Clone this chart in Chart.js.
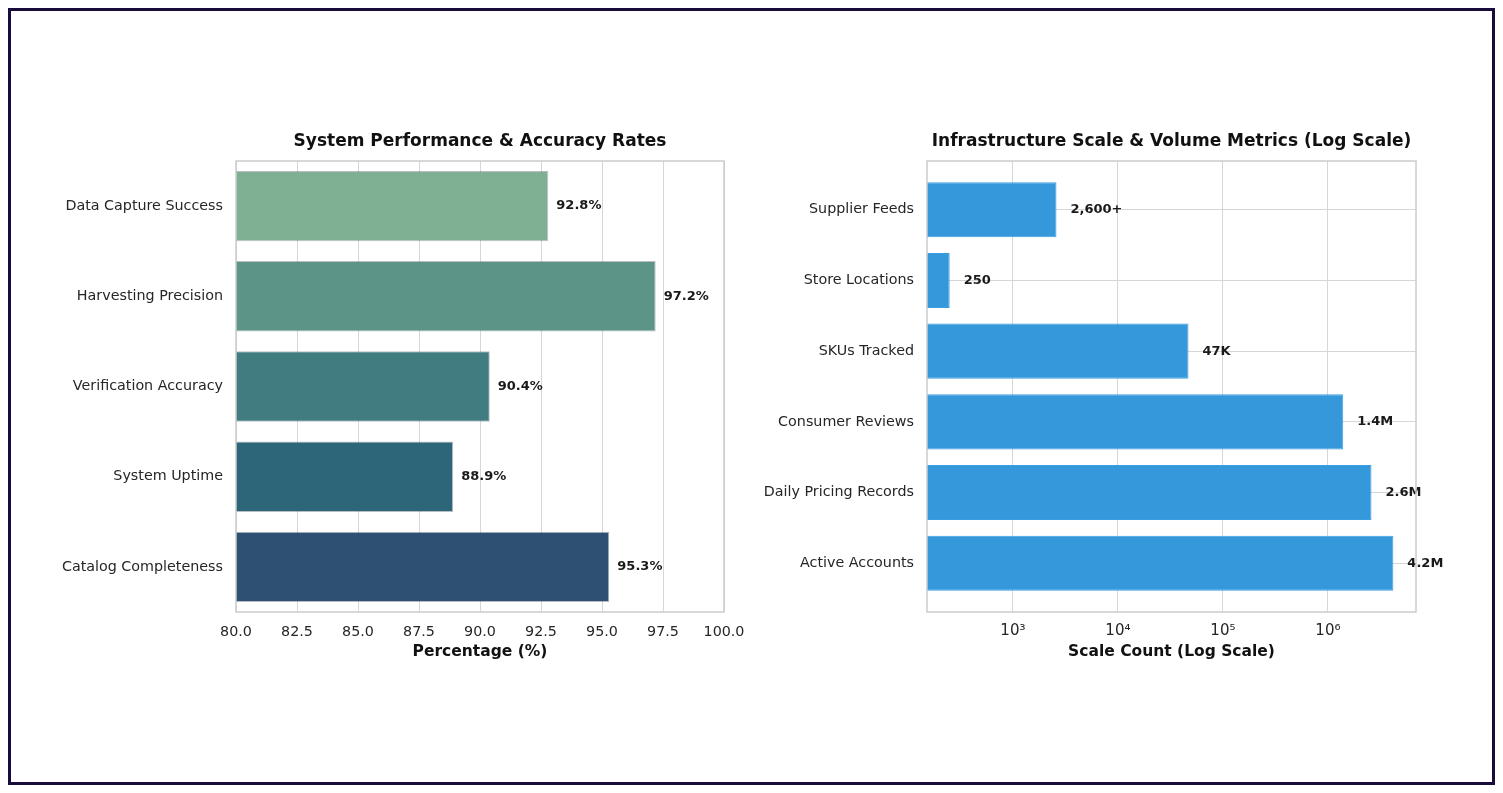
<!DOCTYPE html>
<html>
<head>
<meta charset="utf-8">
<script src="https://cdn.jsdelivr.net/npm/chart.js@4.4.1/dist/chart.umd.min.js"></script>
<style>
  html, body { margin: 0; padding: 0; background: #fff; }
  body { width: 1503px; height: 793px; position: relative; overflow: hidden; }
  .frame { position: absolute; left: 8px; top: 8px; width: 1481px; height: 771px; border: 3px solid #1a0b3d; }
  canvas { position: absolute; top: 0; }
  #perfChart { left: 0; }
  #scaleChart { left: 752px; }
</style>
</head>
<body>
<div class="frame"></div>
<canvas id="perfChart" width="752" height="700"></canvas>
<canvas id="scaleChart" width="751" height="700"></canvas>
<script>
// datos del panel izquierdo
const perfCategories = ["Data Capture Success", "Harvesting Precision", "Verification Accuracy", "System Uptime", "Catalog Completeness"];
const perfValues = [92.8, 97.2, 90.4, 88.9, 95.3];
const perfColors = ["#7fb093", "#5c9488", "#407c80", "#2d6679", "#2e5073"];

// datos del panel derecho
const scaleCategories = ["Supplier Feeds", "Store Locations", "SKUs Tracked", "Consumer Reviews", "Daily Pricing Records", "Active Accounts"];
const scaleValues = [2600, 250, 47000, 1400000, 2600000, 4200000];
const scaleLabels = ["2,600+", "250", "47K", "1.4M", "2.6M", "4.2M"];
const logTickValues = [1e3, 1e4, 1e5, 1e6];
const logTickLabels = ["10\u00B3", "10\u2074", "10\u2075", "10\u2076"];

const FONT = "'DejaVu Sans', sans-serif";
const TEXT = "#262626";
const GRID = "#d6d6d6";

// marco gris alrededor del area de trazado
const boxPlugin = {
  id: "box",
  afterDraw(chart) {
    const a = chart.chartArea;
    const ctx = chart.ctx;
    ctx.save();
    ctx.strokeStyle = "#cccccc";
    ctx.lineWidth = 1.5;
    ctx.strokeRect(a.left, a.top, a.right - a.left, a.bottom - a.top);
    ctx.restore();
  }
};

// titulo centrado sobre el area de trazado
function plotTitle(text) {
  return {
    id: "plotTitle",
    afterDraw(chart) {
      const a = chart.chartArea;
      const ctx = chart.ctx;
      ctx.save();
      ctx.font = "bold 17px " + FONT;
      ctx.fillStyle = "#111";
      ctx.textAlign = "center";
      ctx.textBaseline = "middle";
      ctx.fillText(text, (a.left + a.right) / 2, a.top - 19);
      ctx.restore();
    }
  };
}

// etiquetas de valor al final de cada barra
function valueLabels(texts, gap) {
  return {
    id: "valueLabels",
    afterDatasetsDraw(chart) {
      const ctx = chart.ctx;
      const meta = chart.getDatasetMeta(0);
      ctx.save();
      ctx.font = "bold 13px " + FONT;
      ctx.fillStyle = "#1a1a1a";
      ctx.textBaseline = "middle";
      ctx.textAlign = "left";
      meta.data.forEach((bar, i) => {
        ctx.fillText(texts[i], bar.x + gap, bar.y);
      });
      ctx.restore();
    }
  };
}

function fixWidth(w) { return scale => { scale.width = w; }; }
function fixHeight(h) {
  return scale => {
    scale.height = h;
    scale.paddingLeft = 0;
    scale.paddingRight = 0;
  };
}

new Chart(document.getElementById("perfChart"), {
  type: "bar",
  data: {
    labels: perfCategories,
    datasets: [{
      data: perfValues,
      backgroundColor: perfColors,
      borderColor: perfColors.map(() => "rgba(20,40,60,0.3)"),
      borderWidth: 1,
      borderSkipped: false,
      barPercentage: 0.78,
      categoryPercentage: 1
    }]
  },
  options: {
    indexAxis: "y",
    responsive: false,
    animation: false,
    layout: { padding: { left: 0, right: 28, top: 161, bottom: 28 } },
    plugins: {
      legend: { display: false },
      tooltip: { enabled: false },
      title: { display: false }
    },
    scales: {
      x: {
        type: "linear",
        min: 80,
        max: 100,
        afterFit: fixHeight(60),
        grid: { color: GRID, lineWidth: 1, drawTicks: false },
        border: { display: false },
        ticks: {
          stepSize: 2.5,
          padding: 12,
          color: TEXT,
          font: { family: FONT, size: 14.3 },
          callback: v => v.toFixed(1)
        },
        title: {
          display: true,
          text: "Percentage (%)",
          color: "#111",
          font: { family: FONT, size: 15.5, weight: "bold" },
          padding: { top: 0, bottom: 11 }
        }
      },
      y: {
        afterFit: fixWidth(236),
        grid: { display: false, drawTicks: false },
        border: { display: false },
        ticks: { padding: 13, color: TEXT, font: { family: FONT, size: 14.3 } }
      }
    }
  },
  plugins: [boxPlugin, valueLabels(perfValues.map(v => v + "%"), 8), plotTitle("System Performance & Accuracy Rates")]
});

new Chart(document.getElementById("scaleChart"), {
  type: "bar",
  data: {
    datasets: [{
      data: scaleValues.map((v, i) => ({ x: v, y: i })),
      backgroundColor: "#3498db",
      borderColor: "#3a9fe2",
      borderWidth: 1,
      borderSkipped: false,
      barPercentage: 0.78,
      categoryPercentage: 1
    }]
  },
  options: {
    indexAxis: "y",
    responsive: false,
    animation: false,
    layout: { padding: { left: 0, right: 87, top: 161, bottom: 28 } },
    plugins: {
      legend: { display: false },
      tooltip: { enabled: false },
      title: { display: false }
    },
    scales: {
      x: {
        type: "logarithmic",
        min: 152,
        max: 6.9e6,
        afterFit: fixHeight(60),
        afterBuildTicks: scale => { scale.ticks = logTickValues.map(v => ({ value: v, major: true })); },
        grid: { color: GRID, lineWidth: 1, drawTicks: false },
        border: { display: false },
        ticks: {
          padding: 10,
          color: TEXT,
          font: { family: FONT, size: 15 },
          autoSkip: false,
          maxRotation: 0,
          callback: v => logTickLabels[logTickValues.indexOf(v)]
        },
        title: {
          display: true,
          text: "Scale Count (Log Scale)",
          color: "#111",
          font: { family: FONT, size: 15.5, weight: "bold" },
          padding: { top: 0, bottom: 11 }
        }
      },
      y: {
        type: "linear",
        reverse: true,
        offset: false,
        min: -0.69,
        max: 5.69,
        afterFit: fixWidth(175),
        afterBuildTicks: scale => { scale.ticks = scaleCategories.map((c, i) => ({ value: i })); },
        grid: { color: GRID, lineWidth: 1, drawTicks: false, offset: false },
        border: { display: false },
        ticks: {
          padding: 13,
          color: TEXT,
          font: { family: FONT, size: 14.3 },
          autoSkip: false,
          callback: v => scaleCategories[v]
        }
      }
    }
  },
  plugins: [boxPlugin, valueLabels(scaleLabels, 14), plotTitle("Infrastructure Scale & Volume Metrics (Log Scale)")]
});
</script>
</body>
</html>
